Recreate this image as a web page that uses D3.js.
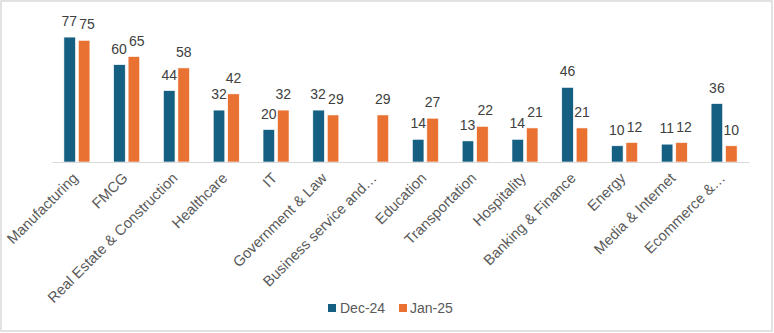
<!DOCTYPE html>
<html><head><meta charset="utf-8">
<script src="https://cdn.jsdelivr.net/npm/d3@7"></script>
<style>html,body{margin:0;padding:0;background:#fff;}svg{display:block;}</style>
</head><body>
<svg id="chart" width="774" height="333"></svg>
<script>
const categories = ["Manufacturing","FMCG","Real Estate & Construction","Healthcare","IT","Government & Law","Business service and…","Education","Transportation","Hospitality","Banking & Finance","Energy","Media & Internet","Ecommerce &…"];
const seriesNames = ["Dec-24","Jan-25"];
const dec24 = [77,60,44,32,20,32,null,14,13,14,46,10,11,36];
const jan25 = [75,65,58,42,32,29,29,27,22,21,21,12,12,10];
const colors = ["#156082","#E97132"];

const svg = d3.select("#chart");
const W = 774, H = 333;
const font = "'Liberation Sans', Arial, sans-serif";

svg.append("rect").attr("x",1).attr("y",1).attr("width",W-3).attr("height",H-3)
  .attr("fill","#fff").attr("stroke","#d9d9d9").attr("stroke-width",1.5);

const left = 52, right = 749, base = 162;
const x0 = d3.scaleBand().domain(categories).range([left,right]).padding(0);
const x1 = d3.scaleBand().domain(seriesNames).range([-13,13]).paddingInner(0.2);
const y = d3.scaleLinear().domain([0,90]).range([base, base-146]);

const allSeries = [dec24, jan25];
const rows = [];
allSeries.forEach((vals,si)=>{
  vals.forEach((v,ci)=>{ if(v!=null) rows.push({s:seriesNames[si], si, c:categories[ci], v}); });
});

const g = svg.append("g");
g.selectAll("rect.bar").data(rows).join("rect").attr("class","bar")
  .attr("x", d=>x0(d.c)+x0.bandwidth()/2+x1(d.s))
  .attr("width", x1.bandwidth())
  .attr("y", d=>y(d.v))
  .attr("height", d=>y(0)-y(d.v))
  .attr("fill", d=>colors[d.si])
  .attr("stroke","#fff").attr("stroke-width",0.6);

const labels = g.selectAll("text.val").data(rows).join("text").attr("class","val")
  .attr("x", d=>x0(d.c)+x0.bandwidth()/2+x1(d.s)+x1.bandwidth()/2)
  .attr("y", d=>y(d.v)-11)
  .attr("text-anchor","middle")
  .attr("font-family",font).attr("font-size","14px").attr("fill","#404040")
  .text(d=>d.v);

// simple label collision avoidance (like the spreadsheet's automatic placement)
const byCat = d3.group(labels.nodes(), n=>d3.select(n).datum().c);
byCat.forEach(nodes=>{
  if(nodes.length<2) return;
  const [a,b] = nodes.map(n=>({n, bb:n.getBBox()}));
  const vOverlap = Math.min(a.bb.y+a.bb.height,b.bb.y+b.bb.height) - Math.max(a.bb.y,b.bb.y);
  const gap = b.bb.x - (a.bb.x+a.bb.width);
  if(vOverlap>0 && gap<2){
    const shift = 2-gap;
    d3.select(a.n).attr("x", +d3.select(a.n).attr("x") - shift*0.15);
    d3.select(b.n).attr("x", +d3.select(b.n).attr("x") + shift*0.85);
  }
});

// axis
const xAxis = d3.axisBottom(x0).tickSize(0).tickPadding(0);
const ax = svg.append("g").attr("transform",`translate(0,${base})`).call(xAxis);
ax.select(".domain").attr("stroke","#d9d9d9").attr("stroke-width",1.2);
ax.selectAll(".tick text")
  .attr("font-family",font).attr("font-size","14.7px").attr("fill","#595959")
  .attr("text-anchor","end")
  .attr("dy","0")
  .attr("transform","translate(2,17) rotate(-45)")
  .attr("y",0).attr("x",0);

// legend
const legend = svg.append("g").attr("transform","translate(328,304)");
const items = [{n:seriesNames[0],c:colors[0],x:0,tx:12},{n:seriesNames[1],c:colors[1],x:71,tx:82}];
items.forEach(it=>{
  legend.append("rect").attr("x",it.x).attr("y",0).attr("width",8).attr("height",8).attr("fill",it.c);
  legend.append("text").attr("x",it.tx).attr("y",9).attr("font-family",font).attr("font-size","14px")
    .attr("fill","#595959").text(it.n);
});
</script>
</body></html>
